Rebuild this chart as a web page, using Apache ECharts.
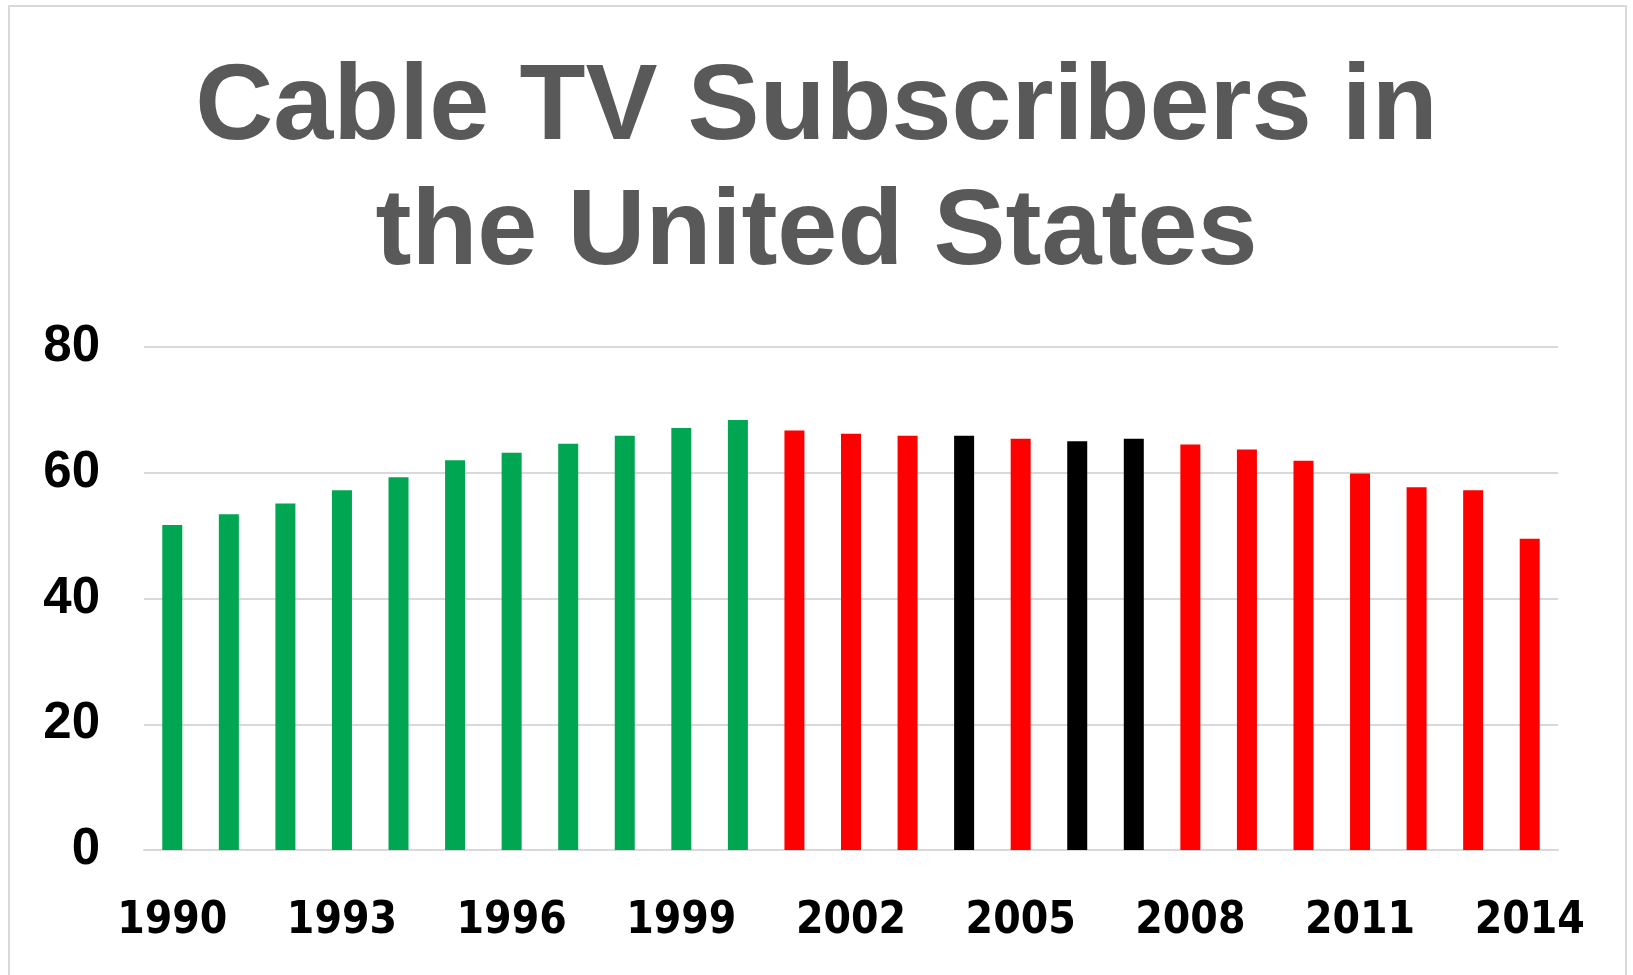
<!DOCTYPE html>
<html>
<head>
<meta charset="utf-8">
<title>Cable TV Subscribers in the United States</title>
<script src="https://cdn.jsdelivr.net/npm/echarts@6/dist/echarts.min.js"></script>
<style>
    html, body { margin: 0; padding: 0; background: #fff; }
    #chart { width: 1633px; height: 975px; }
</style>
</head>
<body>
<div id="chart"></div>
<script>
// subscribers, millions
let years = [];
for (let y = 1990; y <= 2014; y++) years.push(String(y));
let subscribers = [
    51.7, 53.4, 55.1, 57.2, 59.3, 62.0, 63.2, 64.6, 65.9, 67.1, 68.4,
    66.7, 66.2, 65.9, 65.9, 65.4, 65.0, 65.4,
    64.5, 63.7, 61.9, 59.9, 57.7, 57.2, 49.5
];
let lastGreenYear = "2000";
let blackYears = ["2004", "2006", "2007"];
let yTicks = [0, 20, 40, 60, 80];

function barColor(year) {
    if (year <= lastGreenYear) return "#00a651";
    if (blackYears.indexOf(year) >= 0) return "#000000";
    return "#ff0000";
}

let chart = echarts.init(document.getElementById("chart"));
chart.setOption({
    animation: false,
    backgroundColor: "#fff",
    graphic: [{
        type: "rect",
        shape: { x: 9, y: 6, width: 1617, height: 990 },
        style: { fill: "none", stroke: "#d9d9d9", lineWidth: 2 },
        silent: true
    }],
    title: {
        text: "Cable TV Subscribers in\nthe United States",
        left: "center",
        top: 42,
        textStyle: {
            color: "#595959",
            fontFamily: "Liberation Sans",
            fontWeight: "bold",
            fontSize: 108,
            lineHeight: 125
        }
    },
    grid: {
        left: 144,
        right: 75,
        top: 347,
        bottom: 125
    },
    xAxis: {
        type: "category",
        data: years,
        axisLine: { lineStyle: { color: "#d9d9d9", width: 2 } },
        axisTick: { show: false },
        axisLabel: {
            interval: 2,
            margin: 50,
            color: "#000",
            fontFamily: "DejaVu Sans Condensed, Liberation Sans Narrow",
            fontWeight: "bold",
            fontSize: 44
        }
    },
    yAxis: {
        type: "value",
        min: yTicks[0],
        max: yTicks[yTicks.length - 1],
        interval: yTicks[1] - yTicks[0],
        axisLine: { show: false },
        axisTick: { show: false },
        splitLine: { lineStyle: { color: "#d9d9d9", width: 2 } },
        axisLabel: {
            margin: 44,
            color: "#000",
            fontFamily: "Liberation Sans",
            fontWeight: "bold",
            fontSize: 51
        }
    },
    series: [{
        type: "bar",
        barWidth: 20,
        data: subscribers.map(function (v, i) {
            return { value: v, itemStyle: { color: barColor(years[i]) } };
        })
    }]
});
window.addEventListener("resize", function () {
    chart.resize();
});
</script>
</body>
</html>
